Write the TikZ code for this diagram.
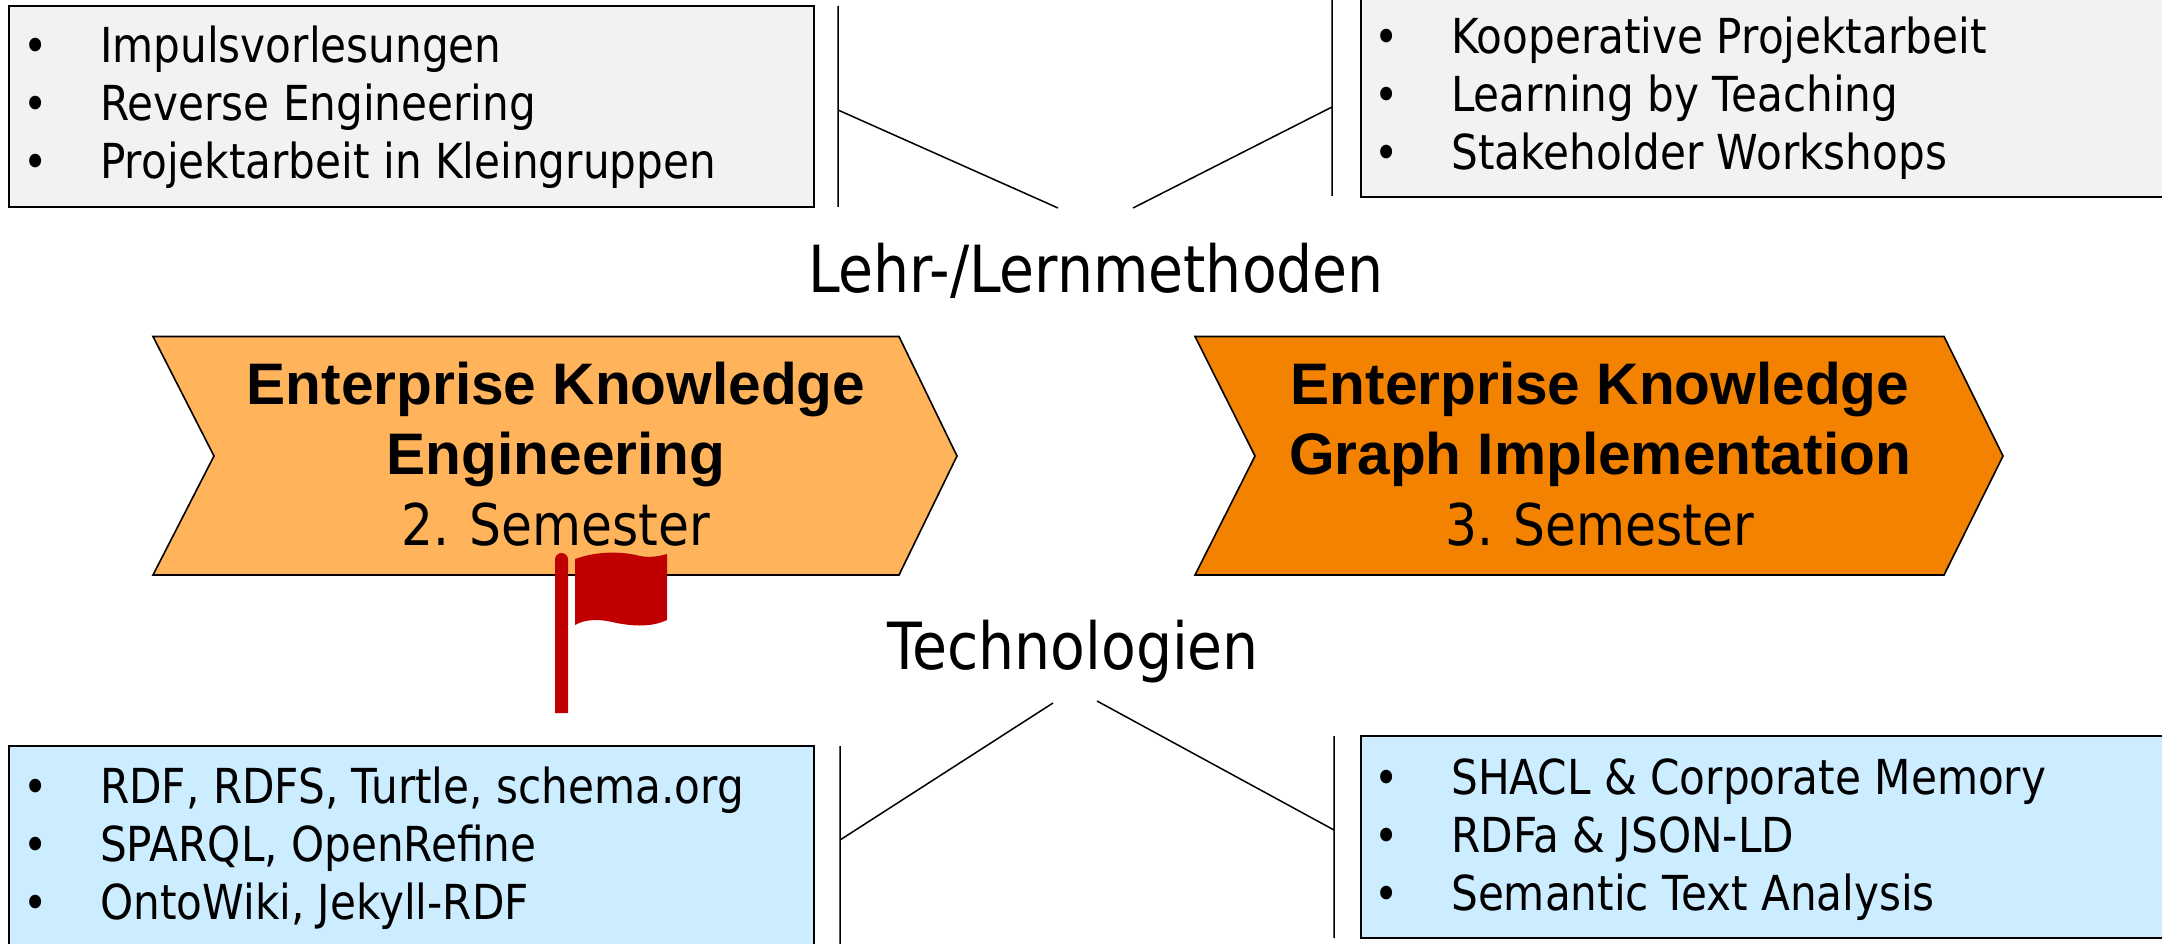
\documentclass[tikz,border=0pt]{standalone}
\usepackage{fontspec}
\setmainfont{DejaVu Sans}[FakeStretch=0.875]
\newfontfamily\arialb{Liberation Sans}[BoldFont={Liberation Sans Bold}]
\definecolor{greybox}{HTML}{F2F2F2}
\definecolor{bluebox}{HTML}{CCECFF}
\definecolor{lightor}{HTML}{FFB35B}
\definecolor{darkor}{HTML}{F38200}
\definecolor{flagred}{HTML}{C00000}
\newcommand\semesterfont{\fontsize{57.5}{66}\selectfont\spaceskip=0.26em plus 0pt\relax}
\tikzset{
  x=1pt,y=-1pt,
  listbox/.style={draw=black,line width=2pt},
  item/.style={anchor=base west,inner sep=0pt,font=\fontsize{48.2}{56}\selectfont},
  bul/.style={anchor=base,inner sep=0pt,font=\fontsize{47}{56}\selectfont},
  chev/.style={draw=black,line width=1.6pt,line join=miter},
  thin line/.style={draw=black,line width=1.5pt},
  title/.style={anchor=base,inner sep=0pt,font=\fontsize{58.6}{66}\selectfont\arialb\bfseries},
  sem/.style={anchor=base,inner sep=0pt,font=\semesterfont},
  head/.style={anchor=base,inner sep=0pt,font=\fontsize{65}{74}\selectfont},
}
\begin{document}
\begin{tikzpicture}
\useasboundingbox (0,0) rectangle (2162,944);
% boxes
\path[listbox,fill=greybox] (9,6) rectangle (814,207);
\path[listbox,fill=greybox] (1361,-5) rectangle (2170,197);
\path[listbox,fill=bluebox] (9,746) rectangle (814,950);
\path[listbox,fill=bluebox] (1361,736) rectangle (2170,938);
% list text
\node[bul] (a1b) at (36,63) {•};  \node[item] (a1) at (100,63) {Impulsvorlesungen};
\node[bul] (a2b) at (36,121) {•}; \node[item] (a2) at (100,121) {Reverse Engineering};
\node[bul] (a3b) at (36,179) {•}; \node[item] (a3) at (100,179) {Projektarbeit in Kleingruppen};
\node[bul] (b1b) at (1387,54) {•};  \node[item] (b1) at (1451,54) {Kooperative Projektarbeit};
\node[bul] (b2b) at (1387,112) {•}; \node[item] (b2) at (1451,112) {Learning by Teaching};
\node[bul] (b3b) at (1387,170) {•}; \node[item] (b3) at (1451,170) {Stakeholder Workshops};
\node[bul] (c1b) at (36,803) {•};  \node[item] (c1) at (100,803) {RDF, RDFS, Turtle, schema.org};
\node[bul] (c2b) at (36,861) {•};  \node[item] (c2) at (100,861) {SPARQL, OpenRefine};
\node[bul] (c3b) at (36,919) {•};  \node[item] (c3) at (100,919) {OntoWiki, Jekyll-RDF};
\node[bul] (d1b) at (1387,794) {•};  \node[item] (d1) at (1451,794) {SHACL \& Corporate Memory};
\node[bul] (d2b) at (1387,852) {•};  \node[item] (d2) at (1451,852) {RDFa \& JSON-LD};
\node[bul] (d3b) at (1387,910) {•};  \node[item] (d3) at (1451,910) {Semantic Text Analysis};
% brackets
\coordinate (ta) at (838,6);    \coordinate (tb) at (838,207);  \coordinate (tm) at (838,110);  \coordinate (te) at (1058,208);
\coordinate (ua) at (1332,0);   \coordinate (ub) at (1332,196); \coordinate (um) at (1332,107); \coordinate (ue) at (1133,208);
\coordinate (va) at (840,746);  \coordinate (vb) at (840,944);  \coordinate (vm) at (840,840);  \coordinate (ve) at (1053,703);
\coordinate (wa) at (1334,736); \coordinate (wb) at (1334,938); \coordinate (wm) at (1334,830); \coordinate (we) at (1097,701);
\draw[thin line] (ta) -- (tb) (tm) -- (te);
\draw[thin line] (ua) -- (ub) (um) -- (ue);
\draw[thin line] (va) -- (vb) (vm) -- (ve);
\draw[thin line] (wa) -- (wb) (wm) -- (we);
% chevrons
\path[chev,fill=lightor] (153,336.5) -- (899,336.5) -- (957,456) -- (899,575) -- (153,575) -- (214,456) -- cycle;
\path[chev,fill=darkor] (1195,336.5) -- (1944,336.5) -- (2003,456) -- (1944,575) -- (1195,575) -- (1255,456) -- cycle;
\node[title] (e1) at (556,404) {Enterprise Knowledge};
\node[title] (e2) at (556,474) {Engineering};
\node[sem] (e3) at (556,545) {2. Semester};
\node[title] (f1) at (1600,404) {Enterprise Knowledge};
\node[title] (f2) at (1600,474) {Graph Implementation};
\node[sem] (f3) at (1600,545) {3. Semester};
\node[head] (h1) at (1096,292) {Lehr-/Lernmethoden};
\node[head] (h2) at (1073,669) {Technologien};
% flag
\fill[flagred] (555,713) -- (555,559.5) .. controls (555,555.9) and (557.9,553) .. (561.5,553) .. controls (565.1,553) and (568,555.9) .. (568,559.5) -- (568,713) -- cycle;
\fill[flagred] (575,559) .. controls (600,550) and (625,552) .. (640,556) .. controls (650,558) and (660,556) .. (667,554)
  -- (667,620) .. controls (650,628) and (630,626) .. (612,622) .. controls (600,619) and (585,619) .. (575,625) -- cycle;
\end{tikzpicture}
\end{document}
